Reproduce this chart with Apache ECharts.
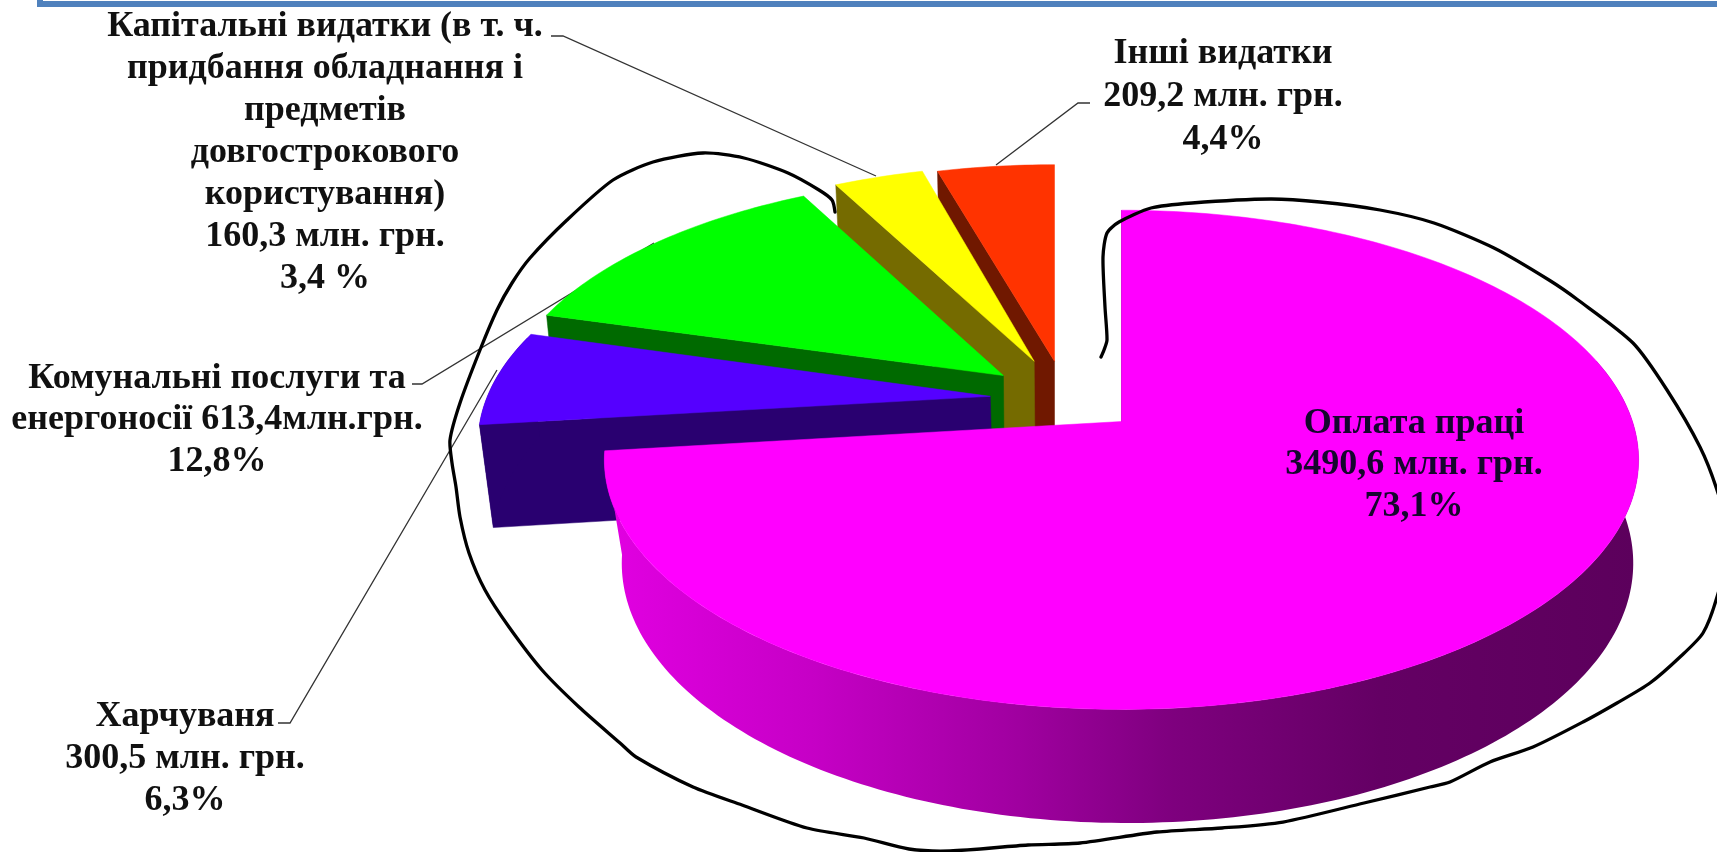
<!DOCTYPE html>
<html><head><meta charset="utf-8">
<style>html,body{margin:0;padding:0;background:#fff}#c{width:1717px;height:852px}</style>
<script src="https://cdn.jsdelivr.net/npm/echarts@6/dist/echarts.min.js"></script>
</head><body><div id="c"></div>
<script>
// --- data (clockwise from 12 o'clock) ---
const sliceNames = ['Оплата праці','Харчуваня','Комунальні послуги та енергоносії','Капітальні видатки','Інші видатки'];
const sliceValues = [3490.6, 300.5, 613.4, 160.3, 209.2];
const sliceLabels = [
  'Оплата праці\n3490,6 млн. грн.\n73,1%',
  'Харчуваня\n300,5 млн. грн.\n6,3%',
  'Комунальні послуги та\nенергоносії 613,4млн.грн.\n12,8%',
  'Капітальні видатки (в т. ч.\nпридбання обладнання і\nпредметів\nдовгострокового\nкористування)\n160,3 млн. грн.\n3,4 %',
  'Інші видатки\n209,2 млн. грн.\n4,4%'
];
// --- styling / layout ---
const topColors  = ['#FF00FF','#5500FF','#00FF00','#FFFF00','#FF3300'];
const wallColors = ['#6a006a','#290070','#006a00','#756b00','#701800'];
const explodeU = [0,-0.261,-0.088,-0.084,0];
const explodeV = [0,-0.105,-0.194,-0.257,-0.257];
const screenDx = [0,0,-74.4,-46,-67];
const baseDx   = [6,0,0,0,0];
const labelX = [1414,185,217,325,1223];
const labelY = [465,759,420,153,97];
const labelLH = [41.5,42,41.5,42,43];
const leaders = [
  null,
  [[278,723],[290,723],[497,370]],
  [[412,384],[422,384],[654,243]],
  [[551,36],[563,36],[876,176]],
  [[1090,103],[1078,103],[996,165]]
];
const inkPath = [[1101,357],[1104,350],[1107,340],[1105,307],[1103,257],[1107,233],[1119,222],[1151,208],[1192,203],[1270,199],[1320,202],[1380,210],[1434,223],[1494,248],[1549,280],[1578,300],[1633,343],[1667,390],[1700,447],[1717,490],[1730,540],[1717,597],[1703,633],[1680,657],[1650,683],[1617,703],[1583,722],[1533,747],[1490,762],[1450,782],[1430,787],[1364,803],[1283,822],[1222,828],[1157,832],[1080,843],[1028,845],[950,851],[909,849],[864,838],[807,828],[742,805],[693,787],[636,757],[620,743],[579,707],[542,670],[509,627],[485,590],[469,553],[460,517],[456,487],[452,463],[450,440],[460,403],[480,350],[497,310],[512,283],[530,258],[567,220],[613,180],[653,162],[703,153],[744,158],[788,173],[819,190],[832,200],[835,212]];

const cx=1121.5, cy=421.5, R=511, Ry=243.7, k=0.1535, h=105, m=0.022;
const total = sliceValues.reduce((a,b)=>a+b,0);
function project(i,u,v,z){const w=1-k*v+m*z;return [cx+R*u/w+screenDx[i]+baseDx[i]*z, cy+(Ry*v+h*z)/w];}
function arcPts(i,a0,a1,z){
  const pts=[],n=Math.max(2,Math.ceil((a1-a0)/1));
  for(let s=0;s<=n;s++){const a=(a0+(a1-a0)*s/n)*Math.PI/180;
    pts.push(project(i,explodeU[i]+Math.sin(a),explodeV[i]-Math.cos(a),z));}
  return pts;
}
function renderItem(params,api){
  const i=api.value(1);
  let start=0; for(let j=0;j<i;j++) start+=sliceValues[j]/total*360;
  const end=start+api.value(0)/total*360;
  const children=[];
  const poly=(points,fill,stroke)=>({type:'polygon',shape:{points},style:{fill,stroke:stroke||fill,lineWidth:0.5}});
  if(leaders[i]) children.push({type:'polyline',shape:{points:leaders[i]},style:{fill:null,stroke:'#333',lineWidth:1.3}});
  const apexTop=project(i,explodeU[i],explodeV[i],0), apexBot=project(i,explodeU[i],explodeV[i],1);
  // radial wall on the start-angle side
  const st=arcPts(i,start,start,0)[0], sb=arcPts(i,start,start,1)[0];
  children.push(poly([apexTop,st,sb,apexBot],wallColors[i]));
  // outer wall facing the viewer
  const a0=Math.max(start,75),a1=Math.min(end,285);
  if(a1>a0){
    const fill = i===0 ? {type:'linear',x:0,y:0,x2:1,y2:0,colorStops:[
      {offset:0,color:'#e200e2'},{offset:.2,color:'#c600c6'},{offset:.4,color:'#a000a0'},
      {offset:.55,color:'#7e007e'},{offset:.75,color:'#640064'},{offset:1,color:'#5c005c'}]} : wallColors[i];
    const t=arcPts(i,a0,a1,0), b=arcPts(i,a0,a1,1).reverse();
    children.push({type:'polygon',shape:{points:t.concat(b)},style:{fill}});
  }
  // top face
  children.push(poly([apexTop].concat(arcPts(i,start,end,0)),topColors[i]));
  children.push({type:'text',x:labelX[i],y:labelY[i],style:{text:sliceLabels[i],fontFamily:'"Liberation Serif","Times New Roman",serif',
    fontWeight:'bold',fontSize:36,lineHeight:labelLH[i],align:'center',verticalAlign:'middle',fill:i===0?'#16062e':'#111'}});
  return {type:'group',children};
}
const chart=echarts.init(document.getElementById('c'),null,{renderer:'canvas'});
chart.setOption({
  animation:false,
  backgroundColor:'#fff',
  series:[{type:'custom',coordinateSystem:'none',renderItem,silent:true,
    data:sliceValues.map((v,i)=>({name:sliceNames[i],value:[v,i]})).reverse()}],
  graphic:[
    {type:'polyline',z:100,silent:true,shape:{points:[[40,-6],[40,4],[1730,4]]},style:{fill:null,stroke:'#4F81BD',lineWidth:6}},
    {type:'polyline',z:100,silent:true,shape:{points:inkPath,smooth:0.25},style:{fill:null,stroke:'#000',lineWidth:3.3,lineJoin:'round',lineCap:'round'}}
  ]
});
</script></body></html>
